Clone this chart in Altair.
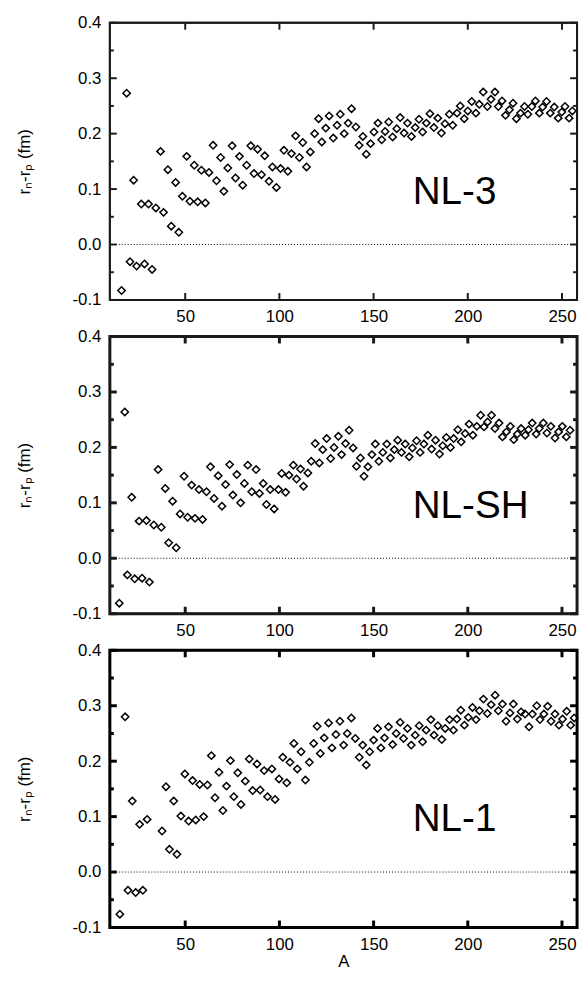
import altair as alt
import pandas as pd

# ---- data ----
A_NL3 = [16.2, 18.9, 20.7, 22.6, 24.2, 26.7, 28.4, 30.5, 32.4, 34.4, 36.9, 38.5, 40.8, 42.6, 44.9, 46.6, 48.5,
         50.8, 52.5, 54.8, 56.6, 58.6, 60.7, 62.6, 64.8, 66.6, 68.8, 70.5, 72.6, 74.9, 76.7, 78.8, 80.5, 82.6,
         84.8, 86.5, 88.4, 90.5, 92.2, 94.5, 96.3, 98.4, 100.6, 102.4, 104.5, 106.4, 108.6, 110.6, 112.4, 114.4,
         116.4, 118.7, 120.8, 122.5, 124.6, 126.4, 128.6, 130.6, 132.3, 134.4, 136.5, 138.3, 140.6, 142.3, 144.3,
         146.1, 148.4, 150.2, 152.3, 154.3, 156.1, 158.0, 160.1, 162.3, 164.1, 166.2, 168.0, 170.1, 172.1, 174.1,
         176.0, 178.0, 179.9, 182.0, 184.1, 186.0, 187.9, 190.2, 192.0, 194.3, 196.0, 198.1, 200.0, 202.1, 204.3,
         206.1, 208.2, 210.4, 212.3, 214.4, 216.2, 218.2, 220.0, 222.1, 224.0, 225.8, 228.0, 230.1, 231.9, 234.0,
         235.9, 238.0, 239.7, 241.8, 243.8, 245.9, 248.0, 249.9, 251.6, 253.8, 255.5]
R_NL3 = [-0.083, 0.273, -0.031, 0.116, -0.039, 0.073, -0.035, 0.073, -0.045, 0.066, 0.168, 0.058, 0.135, 0.033,
         0.112, 0.022, 0.087,
         0.159, 0.078, 0.143, 0.077, 0.134, 0.075, 0.130, 0.179, 0.115, 0.157, 0.096, 0.138, 0.178, 0.120, 0.159,
         0.107, 0.143, 0.178, 0.128, 0.172, 0.126, 0.160, 0.114, 0.140, 0.103, 0.137, 0.170, 0.132, 0.164, 0.196,
         0.157, 0.184, 0.140,
         0.167, 0.200, 0.227, 0.185, 0.210, 0.232, 0.192, 0.215, 0.235, 0.200, 0.219, 0.245, 0.212, 0.179, 0.195,
         0.163, 0.182, 0.203, 0.219, 0.189, 0.204, 0.221, 0.194, 0.209, 0.229, 0.201, 0.219, 0.195, 0.211, 0.226,
         0.203, 0.219, 0.236, 0.211, 0.228, 0.201, 0.218, 0.235, 0.215, 0.237, 0.250, 0.227, 0.241, 0.258, 0.237,
         0.253, 0.275, 0.249, 0.262, 0.275, 0.249, 0.259, 0.233, 0.243, 0.255, 0.227, 0.237, 0.249, 0.235, 0.249,
         0.259, 0.237, 0.248, 0.258, 0.237, 0.248, 0.228, 0.239, 0.249, 0.228, 0.241]

A_NLSH = [15.0, 17.9, 19.3, 21.6, 23.2, 25.5, 27.1, 29.4, 31.0, 33.3, 35.6, 37.3, 39.4, 41.2, 43.3, 45.2, 47.3,
          49.4, 51.3, 53.4, 55.2, 57.3, 59.2, 61.3, 63.4, 65.3, 67.5, 69.5, 71.4, 73.6, 75.3, 77.4, 79.4, 81.4,
          83.2, 85.3, 87.6, 89.4, 91.4, 93.1, 95.1, 97.2, 99.5, 101.2, 103.3, 105.1, 107.4, 109.1, 111.2, 112.8,
          115.1, 116.9, 119.0, 121.2, 123.0, 125.1, 127.2, 129.0, 131.3, 133.0, 135.1, 137.0, 139.1, 140.9, 143.0,
          144.9, 147.0, 149.1, 150.9, 152.8, 154.9, 157.0, 158.9, 161.0, 162.8, 164.8, 166.8, 168.9, 170.6, 172.8,
          174.7, 176.7, 178.8, 180.8, 182.9, 185.0, 186.7, 188.6, 190.8, 192.5, 194.7, 196.5, 198.6, 200.7, 202.7,
          204.8, 206.8, 208.6, 210.5, 212.6, 214.4, 216.6, 218.4, 220.5, 222.6, 224.4, 226.3, 228.3, 230.5, 232.2,
          234.2, 236.3, 237.9, 240.1, 242.0, 244.1, 246.3, 248.2, 250.2, 252.3, 254.3]
R_NLSH = [-0.081, 0.264, -0.030, 0.110, -0.037, 0.067, -0.036, 0.068, -0.043, 0.060, 0.160, 0.056, 0.126, 0.028,
          0.103, 0.019, 0.080,
          0.148, 0.074, 0.132, 0.072, 0.124, 0.070, 0.120, 0.165, 0.108, 0.149, 0.094, 0.133, 0.169, 0.114, 0.151,
          0.100, 0.135, 0.168, 0.120, 0.160, 0.117, 0.135, 0.097, 0.124, 0.089, 0.124, 0.153, 0.119, 0.150, 0.168,
          0.143, 0.161, 0.130,
          0.154, 0.175, 0.207, 0.172, 0.196, 0.216, 0.180, 0.200, 0.220, 0.187, 0.207, 0.231, 0.199, 0.166, 0.181,
          0.148, 0.165, 0.187, 0.206, 0.175, 0.191, 0.206, 0.181, 0.196, 0.213, 0.191, 0.206, 0.183, 0.199, 0.212,
          0.191, 0.206, 0.222, 0.197, 0.213, 0.188, 0.203, 0.218, 0.200, 0.216, 0.232, 0.210, 0.225, 0.242, 0.222,
          0.238, 0.258, 0.237, 0.246, 0.258, 0.234, 0.244, 0.219, 0.228, 0.238, 0.214, 0.224, 0.234, 0.222, 0.232,
          0.244, 0.224, 0.234, 0.244, 0.226, 0.238, 0.217, 0.228, 0.238, 0.219, 0.231]

A_NL1 = [15.3, 18.1, 19.6, 21.9, 23.7, 25.8, 27.5, 29.8, 37.7, 39.8, 41.6, 43.9, 45.6, 47.7,
         49.8, 51.8, 53.9, 55.6, 57.7, 59.8, 61.8, 63.9, 65.8, 67.9, 70.0, 71.9, 74.0, 75.8, 77.9, 79.6, 81.9,
         84.0, 85.8, 88.1, 89.8, 91.9, 93.7, 96.0, 97.7, 99.8, 101.8, 103.9, 105.6, 107.7, 109.5, 111.5, 113.8,
         115.9, 118.2, 120.0, 121.7, 123.8, 126.1, 127.9, 130.0, 132.1, 134.1, 136.0, 138.2, 140.3, 142.4, 144.2,
         146.1, 147.9, 150.0, 152.1, 153.9, 155.8, 157.9, 160.1, 162.0, 164.1, 165.9, 168.0, 170.0, 172.1, 174.2,
         176.0, 177.9, 180.4, 182.1, 184.1, 186.2, 188.0, 190.3, 192.4, 194.2, 196.3, 198.2, 200.3, 202.5, 204.4,
         206.2, 208.3, 210.4, 212.4, 214.5, 216.2, 218.4, 220.3, 222.4, 224.2, 226.3, 228.3, 230.4, 232.5, 234.3,
         236.6, 238.3, 240.4, 242.4, 244.2, 246.3, 248.4, 250.3, 252.5, 254.6, 256.5]
R_NL1 = [-0.076, 0.280, -0.033, 0.128, -0.037, 0.086, -0.033, 0.095, 0.074, 0.154, 0.041, 0.128, 0.032, 0.101,
         0.177, 0.092, 0.165, 0.094, 0.158, 0.100, 0.157, 0.210, 0.134, 0.180, 0.111, 0.155, 0.201, 0.136, 0.179,
         0.122, 0.164, 0.204, 0.147, 0.195, 0.148, 0.183, 0.136, 0.186, 0.131, 0.168, 0.207, 0.161, 0.198, 0.232,
         0.186, 0.217, 0.166, 0.198, 0.232, 0.263, 0.214, 0.242, 0.269, 0.224, 0.248, 0.272, 0.229, 0.250, 0.278,
         0.241, 0.207, 0.229, 0.193, 0.217, 0.238, 0.259, 0.224, 0.242, 0.262, 0.230, 0.250, 0.270, 0.241, 0.259,
         0.229, 0.247, 0.264, 0.235, 0.256, 0.275, 0.247, 0.264, 0.239, 0.259, 0.275, 0.256, 0.276, 0.292, 0.265,
         0.279, 0.297, 0.275, 0.291, 0.312, 0.286, 0.302, 0.319, 0.291, 0.303, 0.272, 0.287, 0.303, 0.276, 0.289,
         0.285, 0.262, 0.285, 0.300, 0.275, 0.285, 0.299, 0.272, 0.285, 0.265, 0.276, 0.290, 0.265, 0.278]

PANEL_LABELS = ["NL-3", "NL-SH", "NL-1"]
X_TICKS = [50, 100, 150, 200, 250]
Y_TICKS_MAJOR = [-0.1, 0.0, 0.1, 0.2, 0.3, 0.4]
Y_TICKS_MINOR = [-0.05, 0.05, 0.15, 0.25, 0.35]
Y_TITLE = "r\u2099-r\u209a (fm)"
X_TITLE = "A"

# ---- layout / style ----
W, H = 472, 280
FONT = "Liberation Sans"
xs = alt.Scale(domain=[10, 258], nice=False, zero=False)
ys = alt.Scale(domain=[-0.1, 0.4], nice=False, zero=False)


def panel(a, r, label, show_title, line_color, line_width):
    df = pd.DataFrame({"A": a, "r": r})
    x_kw = dict(values=X_TICKS, domain=False, ticks=False, grid=False, labelOverlap=False,
                labelFontSize=17, labelPadding=9, labelFont=FONT, labelColor="black")
    if show_title:
        x_kw.update(title=X_TITLE, titleFontSize=17, titleFont=FONT, titleFontWeight="normal",
                    titleColor="black", titlePadding=1)
    else:
        x_kw.update(title="")
    y_axis = alt.Axis(values=Y_TICKS_MAJOR, domain=False, ticks=False, grid=False, labelOverlap=False,
                      labelFontSize=17, labelPadding=9, labelFont=FONT, labelColor="black",
                      labelExpr="datum.value < -0.0001 ? '-' + format(-datum.value, '.1f') : format(abs(datum.value), '.1f')",
                      minExtent=40, maxExtent=40,
                      title=Y_TITLE, titleFontSize=17, titleFont=FONT, titleFontWeight="normal",
                      titleColor="black", titlePadding=37)

    pts = alt.Chart(df).mark_point(shape="diamond", filled=False, color="black",
                                   size=55, strokeWidth=1.5, opacity=1).encode(
        x=alt.X("A:Q", scale=xs, axis=alt.Axis(**x_kw)),
        y=alt.Y("r:Q", scale=ys, axis=y_axis),
    )
    zero = alt.Chart(pd.DataFrame({"r": [0.0]})).mark_rule(
        color="black", strokeDash=[1, 2]).encode(y=alt.Y("r:Q", scale=ys))

    ymaj = pd.DataFrame({"r": Y_TICKS_MAJOR, "side": label + " major"})
    ymin = pd.DataFrame({"r": Y_TICKS_MINOR, "side": label + " minor"})
    xt = pd.DataFrame({"A": X_TICKS, "side": label + " x"})
    ts = dict(color=line_color, strokeWidth=line_width)
    ticks = [
        alt.Chart(ymaj).mark_rule(**ts).encode(y=alt.Y("r:Q", scale=ys), x=alt.value(0), x2=alt.value(7)),
        alt.Chart(ymaj).mark_rule(**ts).encode(y=alt.Y("r:Q", scale=ys), x=alt.value(W - 7), x2=alt.value(W)),
        alt.Chart(ymin).mark_rule(**ts).encode(y=alt.Y("r:Q", scale=ys), x=alt.value(0), x2=alt.value(4)),
        alt.Chart(ymin).mark_rule(**ts).encode(y=alt.Y("r:Q", scale=ys), x=alt.value(W - 4), x2=alt.value(W)),
        alt.Chart(xt).mark_rule(**ts).encode(x=alt.X("A:Q", scale=xs), y=alt.value(H - 7), y2=alt.value(H)),
        alt.Chart(xt).mark_rule(**ts).encode(x=alt.X("A:Q", scale=xs), y=alt.value(0), y2=alt.value(7)),
    ]
    frame = alt.Chart(pd.DataFrame({"t": [label]})).mark_rect(
        fill="transparent", stroke=line_color, strokeWidth=line_width).encode(
        x=alt.value(0), x2=alt.value(W), y=alt.value(0), y2=alt.value(H))
    txt = alt.Chart(pd.DataFrame({"t": [label]})).mark_text(
        align="left", fontSize=39, font=FONT, color="black").encode(
        text="t:N", x=alt.value(306), y=alt.value(171))

    return alt.layer(pts, zero, *ticks, frame, txt).properties(width=W, height=H)


p1 = panel(A_NL3, R_NL3, PANEL_LABELS[0], False, "#1a1a1a", 2)
p2 = panel(A_NLSH, R_NLSH, PANEL_LABELS[1], False, "#1a1a1a", 3)
p3 = panel(A_NL1, R_NL1, PANEL_LABELS[2], True, "black", 3)

chart = alt.vconcat(p1, p2, p3, spacing=37, bounds="flush").properties(
    padding={"left": 15, "top": 8, "right": 0, "bottom": 0},
    background="white",
).configure_view(stroke="#1a1a1a", strokeWidth=2)

chart.save("out.html", embed_options={"renderer": "svg", "actions": False})
